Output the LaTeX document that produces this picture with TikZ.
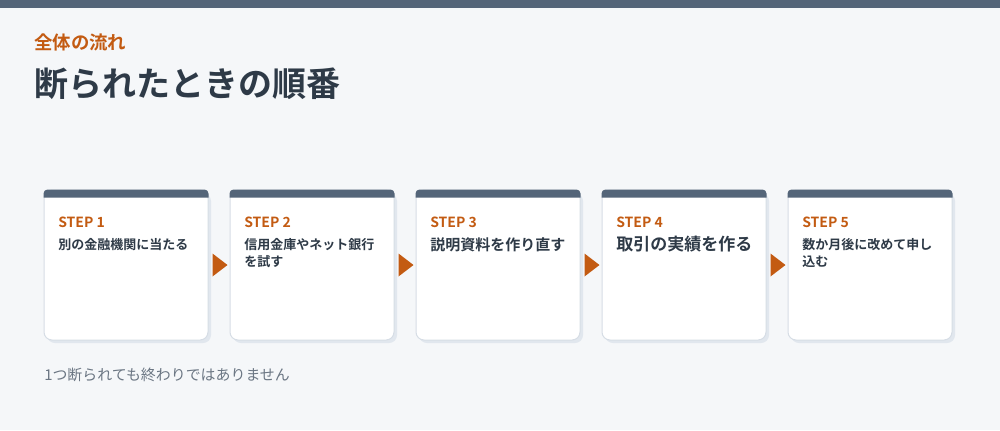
\documentclass[tikz,border=0pt]{standalone}
\usepackage{fontspec}
\setmainfont{Noto Sans CJK JP}[BoldFont={Noto Sans CJK JP Bold}]
\definecolor{bgc}{HTML}{F5F7F9}
\definecolor{barc}{HTML}{546579}
\definecolor{stepc}{HTML}{C35B12}
\definecolor{inkc}{HTML}{2E3A47}
\definecolor{mutedc}{HTML}{6B7683}
\definecolor{linec}{HTML}{D6DDE5}
\definecolor{shadowc}{HTML}{E1E7EE}
\tikzset{
	card/.style={draw=linec, line width=0.75pt, fill=white, rounded corners=6pt, minimum width=123pt, minimum height=112.5pt, inner sep=0pt},
	steplbl/.style={anchor=base west, inner sep=0pt, text=stepc, font=\bfseries\fontsize{10.5pt}{12pt}\selectfont},
	body/.style={anchor=north west, inner sep=0pt, align=left, text=inkc, font=\bfseries\fontsize{9.75pt}{12.8pt}\selectfont},
}
\begin{document}
\begin{tikzpicture}[x=0.75pt,y=-0.75pt]
		\useasboundingbox (0,0) rectangle (1000,430);
		\fill[bgc] (0,0) rectangle (1000,430);
		\fill[barc] (0,0) rectangle (1000,8);
		% headings
		\node[anchor=west, inner sep=0pt, text=stepc, font=\bfseries\fontsize{13.8pt}{16pt}\selectfont] (kicker) at (34,42) {全体の流れ};
		\node[anchor=west, inner sep=0pt, text=inkc, font=\bfseries\fontsize{25.5pt}{29pt}\selectfont] (title) at (34,84) {断られたときの順番};
		% shadows
		\fill[shadowc, rounded corners=6pt] (47,193) rectangle (211,343);
		\fill[shadowc, rounded corners=6pt] (233,193) rectangle (397,343);
		\fill[shadowc, rounded corners=6pt] (419,193) rectangle (583,343);
		\fill[shadowc, rounded corners=6pt] (605,193) rectangle (769,343);
		\fill[shadowc, rounded corners=6pt] (791,193) rectangle (955,343);
		% cards
		\node[card] (s1) at (126,265) {};
		\node[card] (s2) at (312,265) {};
		\node[card] (s3) at (498,265) {};
		\node[card] (s4) at (684,265) {};
		\node[card] (s5) at (870,265) {};
		\fill[barc] (s1.north west) ++(0,8) [rounded corners=3pt] -- (s1.north west) -- (s1.north east) [sharp corners] -- ++(0,8) -- cycle;
		\fill[barc] (s2.north west) ++(0,8) [rounded corners=3pt] -- (s2.north west) -- (s2.north east) [sharp corners] -- ++(0,8) -- cycle;
		\fill[barc] (s3.north west) ++(0,8) [rounded corners=3pt] -- (s3.north west) -- (s3.north east) [sharp corners] -- ++(0,8) -- cycle;
		\fill[barc] (s4.north west) ++(0,8) [rounded corners=3pt] -- (s4.north west) -- (s4.north east) [sharp corners] -- ++(0,8) -- cycle;
		\fill[barc] (s5.north west) ++(0,8) [rounded corners=3pt] -- (s5.north west) -- (s5.north east) [sharp corners] -- ++(0,8) -- cycle;
		% labels
		\node[steplbl] (l1) at (58,227) {STEP 1};
		\node[steplbl] (l2) at (244,227) {STEP 2};
		\node[steplbl] (l3) at (430,227) {STEP 3};
		\node[steplbl] (l4) at (616,227) {STEP 4};
		\node[steplbl] (l5) at (802,227) {STEP 5};
		\node[body] (t1) at (58,238) {別の金融機関に当たる};
		\node[body] (t2) at (244,238) {信用金庫やネット銀行\\を試す};
		\node[body, font=\bfseries\fontsize{11.25pt}{14pt}\selectfont] (t3) at (430,237) {説明資料を作り直す};
		\node[body, font=\bfseries\fontsize{12.75pt}{16pt}\selectfont] (t4) at (616,236) {取引の実績を作る};
		\node[body] (t5) at (802,238) {数か月後に改めて申し\\込む};
		% arrows
		\fill[stepc] ([xshift=3pt]s1.east) ++(0,-11.5) -- ++(11.25pt,11.5) -- ++(-11.25pt,11.5) -- cycle;
		\fill[stepc] ([xshift=3pt]s2.east) ++(0,-11.5) -- ++(11.25pt,11.5) -- ++(-11.25pt,11.5) -- cycle;
		\fill[stepc] ([xshift=3pt]s3.east) ++(0,-11.5) -- ++(11.25pt,11.5) -- ++(-11.25pt,11.5) -- cycle;
		\fill[stepc] ([xshift=3pt]s4.east) ++(0,-11.5) -- ++(11.25pt,11.5) -- ++(-11.25pt,11.5) -- cycle;
		% note
		\node[anchor=west, inner sep=0pt, text=mutedc, font=\fontsize{11.2pt}{13pt}\selectfont] (note) at (44,375) {1つ断られても終わりではありません};
		\end{tikzpicture}
\end{document}
